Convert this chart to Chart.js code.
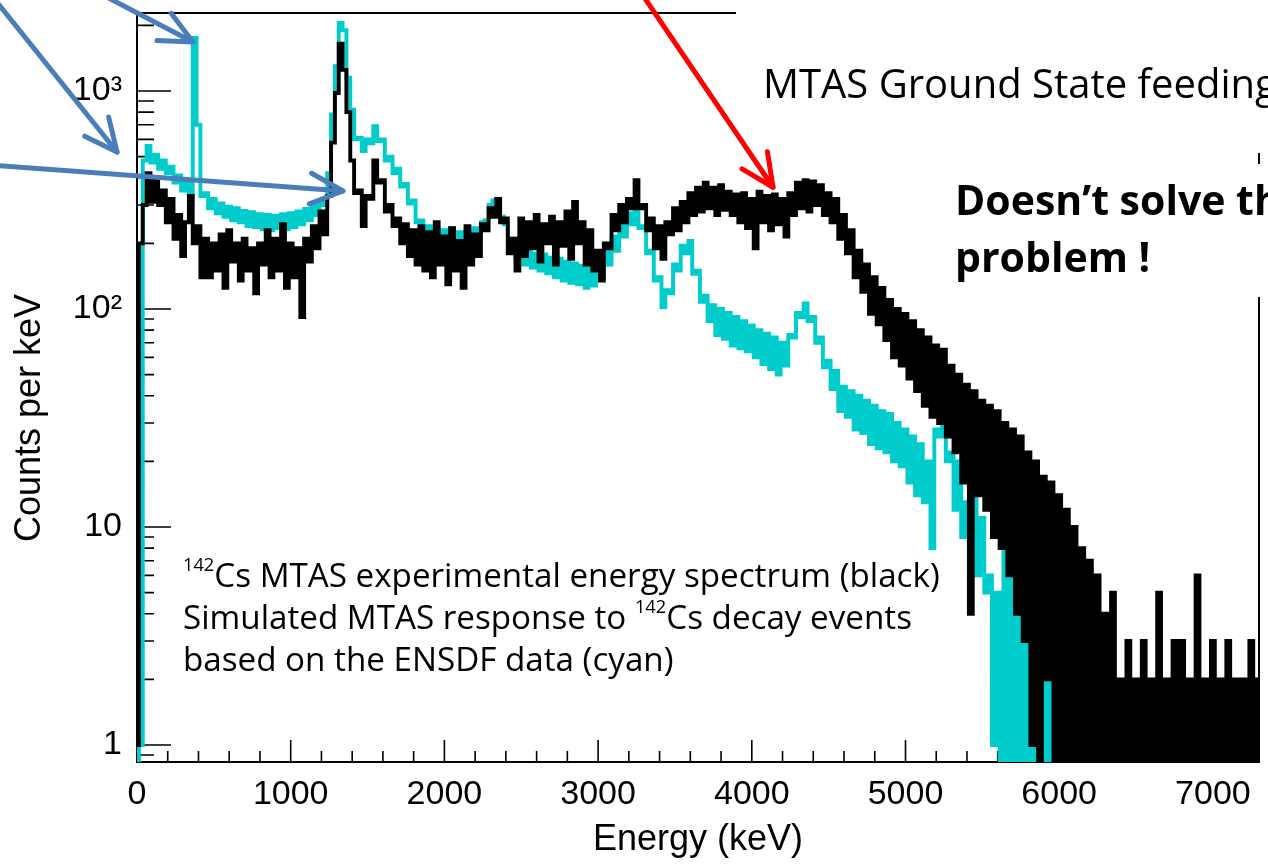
<!DOCTYPE html>
<html>
<head>
<meta charset="utf-8">
<title>142Cs MTAS spectrum</title>
<script src="https://cdn.jsdelivr.net/npm/chart.js@4.4.1/dist/chart.umd.min.js"></script>
<style>
  html, body { margin: 0; padding: 0; background: #fff; overflow: hidden; }
  #wrap { position: relative; width: 1268px; height: 864px; overflow: hidden; }
  #spectrum { position: absolute; left: 0; top: 0; }
  .note { position: absolute; font-family: "Open Sans", Lato, sans-serif; color: #000; white-space: nowrap; }
  .sup { font-size: 0.55em; position: relative; top: -0.85em; }
</style>
</head>
<body>
<div id="wrap">
  <canvas id="spectrum" width="1268" height="864"></canvas>
  <div class="note" style="left:763px; top:60px; font-size:40px; line-height:46px;">MTAS Ground State feeding</div>
  <div class="note" style="left:955px; top:171px; font-size:41px; line-height:57px; font-weight:700;">Doesn’t solve the<br>problem !</div>
  <div class="note" style="left:183px; top:556px; font-size:33.2px; line-height:37px;"><span class="sup">142</span>Cs MTAS experimental energy spectrum (black)<br>Simulated MTAS response to <span class="sup">142</span>Cs decay events<br>based on the ENSDF data (cyan)</div>
</div>
<script>
// channel width of both spectra, keV
var binWidth = 25;

// 142Cs MTAS experimental spectrum (black), counts per keV, one value per channel from 0 keV
var expCounts = [
  1, 200, 300, 420, 310, 400, 300, 350,
  250, 320, 210, 270, 175, 250, 330, 200,
  240, 140, 210, 140, 200, 150, 220, 125,
  230, 165, 200, 135, 210, 150, 190, 118,
  200, 160, 230, 140, 210, 150, 245, 125,
  200, 140, 190, 92, 210, 165, 240, 190,
  280, 220, 330, 580, 980, 1650, 1250, 800,
  480, 340, 350, 240, 330, 320, 480, 380,
  390, 280, 300, 240, 260, 200, 245, 175,
  230, 160, 240, 150, 225, 140, 250, 160,
  215, 130, 235, 150, 205, 125, 240, 160,
  220, 175, 245, 230, 290, 265, 320, 250,
  260, 180, 210, 150, 260, 175, 250, 190,
  270, 165, 245, 200, 265, 160, 250, 195,
  280, 170, 310, 200, 250, 160, 230, 150,
  185, 135, 200, 190, 270, 230, 300, 250,
  320, 290, 390, 290, 300, 230, 260, 190,
  240, 170, 250, 220, 290, 230, 310, 250,
  340, 270, 360, 280, 380, 290, 360, 270,
  370, 285, 345, 270, 335, 250, 340, 235,
  320, 190, 345, 250, 330, 230, 335, 245,
  320, 215, 340, 270, 380, 290, 390, 280,
  385, 300, 370, 270, 340, 250, 320, 210,
  270, 180, 230, 140, 185, 120, 160, 95,
  140, 85, 125, 72, 110, 60, 100, 55,
  95, 48, 88, 42, 80, 36, 74, 32,
  68, 30, 65, 26, 55, 22, 50, 16,
  45, 4, 42, 14, 38, 12, 36, 9,
  34, 8, 30, 6, 28, 4, 26, 3,
  22, 1, 20, 0, 17, 2, 16, 0,
  14, 0, 12, 0, 10, 0, 8, 0,
  7, 0, 6, 0, 4, 0, 5, 0,
  2, 0, 3, 0, 2, 0, 3, 0,
  2, 0, 5, 0, 2, 0, 3, 0,
  3, 0, 2, 0, 6, 0, 2, 0,
  3, 0, 2, 0, 3, 0, 2, 0,
  2, 0, 3, 0, 2
];

// simulated MTAS response from ENSDF data (cyan)
var simCounts = [
  0, 1, 480, 560, 470, 510, 440, 480,
  420, 450, 380, 410, 350, 380, 330, 1750,
  700, 330, 340, 290, 320, 275, 305, 265,
  295, 255, 290, 250, 282, 240, 278, 238,
  272, 232, 270, 230, 268, 235, 272, 232,
  275, 238, 280, 245, 288, 255, 300, 270,
  315, 300, 420, 780, 1300, 2050, 1900, 1150,
  820, 600, 610, 530, 600, 575, 690, 590,
  600, 480, 500, 420, 440, 365, 375, 305,
  315, 250, 255, 210, 240, 200, 235, 195,
  230, 198, 235, 195, 225, 192, 230, 198,
  235, 210, 250, 255, 300, 315, 320, 265,
  245, 200, 210, 172, 190, 160, 185, 155,
  180, 150, 178, 146, 172, 140, 170, 135,
  165, 132, 162, 130, 158, 125, 155, 128,
  160, 140, 185, 160, 215, 185, 245, 215,
  275, 245, 290, 235, 240, 180, 185, 135,
  140, 102, 122, 118, 160, 150, 195, 180,
  205, 145, 150, 108, 115, 88, 104, 76,
  100, 73, 96, 68, 92, 66, 88, 64,
  84, 60, 80, 56, 77, 53, 74, 50,
  70, 55, 76, 74, 96, 92, 106, 88,
  92, 70, 74, 54, 58, 43, 52, 34,
  44, 32, 42, 28, 40, 27, 38, 24,
  36, 23, 34, 22, 33, 20, 30, 19,
  28, 16, 26, 14, 24, 13, 20, 8,
  28, 26, 33, 20, 22, 12, 20, 9,
  13, 6, 14, 6, 11, 5, 6, 1,
  5, 0, 8, 0, 7, 0, 5, 0,
  4, 0, 3, 0, 4, 0, 2, 0,
  2, 0
];

var xRange = [0, 7300];
var yRange = [0.836, 2280];
var xLabelStep = 1000;
var xTickStep = 200;
var yMajorTicks = [1, 10, 100, 1000];
var yMajorLabels = ['1', '10', '10²', '10³'];
var yMinorTicks = [0.9, 2, 3, 4, 5, 6, 7, 8, 9, 20, 30, 40, 50, 60, 70, 80, 90,
                   200, 300, 400, 500, 600, 700, 800, 900, 2000];
var yTitle = 'Counts per keV';

// slide arrows: tip at (energy, counts), tail given as offset in px from the tip
var arrowNotes = [
  {e: 364, v: 1680, dx: -98, dy: -51, color: '#4a7ebb'},
  {e: -130, v: 525, dx: -125, dy: -156, color: '#4a7ebb'},
  {e: 1340, v: 348, dx: -355, dy: -26, color: '#4a7ebb'},
  {e: 4138, v: 362, dx: -135, dy: -199, color: '#ff0000'}
];

var axisFont = {family: 'Liberation Sans', size: 34};

function toPoints(counts) {
  return counts.map(function (c, i) { return {x: i * binWidth, y: c}; });
}

function drawArrow(ctx, tx, ty, dx, dy, color) {
  var fx = tx + dx, fy = ty + dy;
  var ang = Math.atan2(ty - fy, tx - fx);
  var head = 36, spread = 0.44;
  ctx.strokeStyle = color;
  ctx.lineWidth = 5;
  ctx.lineCap = 'round';
  ctx.lineJoin = 'round';
  ctx.beginPath();
  ctx.moveTo(fx, fy);
  ctx.lineTo(tx, ty);
  ctx.stroke();
  ctx.beginPath();
  ctx.moveTo(tx - head * Math.cos(ang - spread), ty - head * Math.sin(ang - spread));
  ctx.lineTo(tx, ty);
  ctx.lineTo(tx - head * Math.cos(ang + spread), ty - head * Math.sin(ang + spread));
  ctx.stroke();
}

var framePlugin = {
  id: 'frame',
  beforeDatasetsDraw: function (chart) {
    var ctx = chart.ctx, a = chart.chartArea, x = chart.scales.x, y = chart.scales.y;
    ctx.save();
    ctx.strokeStyle = '#000';
    ctx.lineWidth = 1.6;
    ctx.beginPath();
    x.ticks.forEach(function (t) {
      if (t.value % xTickStep !== 0) return;
      var px = x.getPixelForValue(t.value);
      var len = t.value % xLabelStep === 0 ? 22 : 11;
      ctx.moveTo(px, a.bottom);
      ctx.lineTo(px, a.bottom - len);
    });
    y.ticks.forEach(function (t) {
      var py = y.getPixelForValue(t.value);
      var len = yMajorTicks.indexOf(t.value) >= 0 ? 34 : 17;
      ctx.moveTo(a.left, py);
      ctx.lineTo(a.left + len, py);
    });
    ctx.stroke();
    // top and right edges of the plot frame
    ctx.lineWidth = 2;
    ctx.beginPath();
    ctx.moveTo(a.left, a.top);
    ctx.lineTo(a.right, a.top);
    ctx.lineTo(a.right, a.bottom);
    ctx.stroke();
    ctx.restore();
  },
  afterDraw: function (chart) {
    var ctx = chart.ctx, x = chart.scales.x, y = chart.scales.y;
    ctx.save();
    // white slide text boxes lying over the frame
    ctx.fillStyle = '#fff';
    ctx.fillRect(736, 0, 532, 153);
    ctx.fillRect(945, 164, 323, 133);
    // y axis title
    ctx.fillStyle = '#000';
    ctx.font = '36px "Liberation Sans"';
    ctx.textAlign = 'center';
    ctx.textBaseline = 'middle';
    ctx.translate(30, 418);
    ctx.rotate(-Math.PI / 2);
    ctx.fillText(yTitle, 0, 0);
    ctx.restore();
    ctx.save();
    arrowNotes.forEach(function (n) {
      drawArrow(ctx, x.getPixelForValue(n.e), y.getPixelForValue(n.v), n.dx, n.dy, n.color);
    });
    ctx.restore();
  }
};

var ctx = document.getElementById('spectrum');
var spectrumChart = new Chart(ctx, {
  type: 'line',
  data: {
    datasets: [{
      label: '142Cs MTAS experimental energy spectrum',
      data: toPoints(expCounts),
      borderColor: '#000000',
      borderWidth: 3.9,
      stepped: 'middle',
      pointRadius: 0,
      order: 1
    }, {
      label: 'Simulated MTAS response (ENSDF)',
      data: toPoints(simCounts),
      borderColor: '#00cccc',
      borderWidth: 3.9,
      stepped: 'middle',
      pointRadius: 0,
      order: 2
    }]
  },
  options: {
    responsive: false,
    animation: false,
    parsing: false,
    events: [],
    layout: {padding: {top: 13, right: 9, left: 0, bottom: 0}},
    plugins: {
      legend: {display: false},
      tooltip: {enabled: false}
    },
    scales: {
      x: {
        type: 'linear',
        min: xRange[0],
        max: xRange[1],
        grid: {display: true, drawOnChartArea: false, drawTicks: false},
        border: {display: true, color: '#000', width: 2},
        ticks: {
          stepSize: xTickStep,
          autoSkip: false,
          maxRotation: 0,
          minRotation: 0,
          padding: 12,
          color: '#000',
          font: axisFont,
          callback: function (v) { return v % xLabelStep === 0 ? String(v) : ''; }
        },
        title: {
          display: true,
          text: 'Energy (keV)',
          color: '#000',
          font: {family: 'Liberation Sans', size: 36},
          padding: {top: 0, bottom: 2}
        },
        afterFit: function (s) { s.height = 102; s.paddingLeft = 0; s.paddingRight = 0; }
      },
      y: {
        type: 'logarithmic',
        min: yRange[0],
        max: yRange[1],
        grid: {display: true, drawOnChartArea: false, drawTicks: false},
        border: {display: true, color: '#000', width: 2},
        afterBuildTicks: function (s) {
          s.ticks = yMinorTicks.concat(yMajorTicks).sort(function (p, q) { return p - q; })
            .map(function (v) { return {value: v}; });
        },
        ticks: {
          autoSkip: false,
          padding: 15,
          color: '#000',
          font: axisFont,
          callback: function (v) {
            var k = yMajorTicks.indexOf(v);
            return k >= 0 ? yMajorLabels[k] : '';
          }
        },
        afterFit: function (s) { s.width = 137; s.paddingTop = 0; s.paddingBottom = 0; }
      }
    }
  },
  plugins: [framePlugin]
});
</script>
</body>
</html>
